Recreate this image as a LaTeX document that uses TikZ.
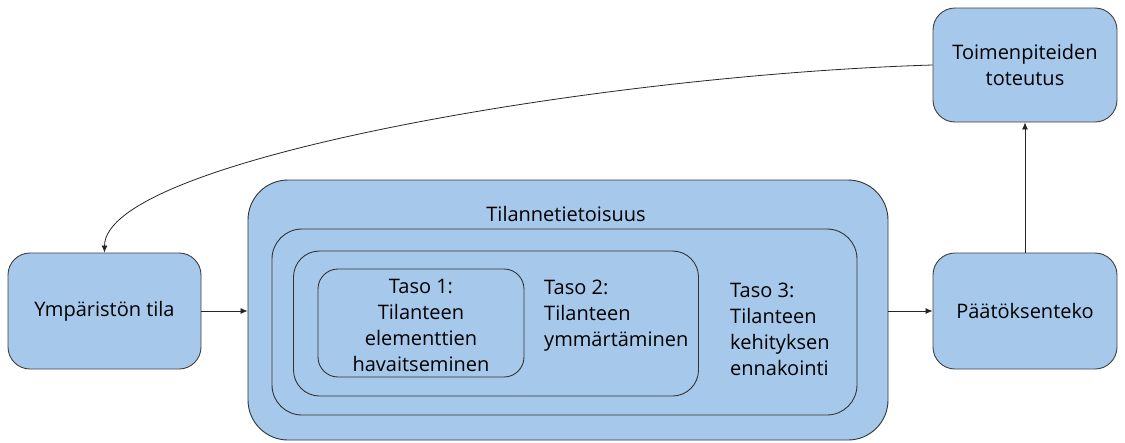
\documentclass[tikz,border=0pt]{standalone}
\usepackage{fontspec}
\setmainfont{Open Sans}
\usepackage{tikz}
\usetikzlibrary{arrows.meta}
\definecolor{sabox}{RGB}{166,201,235}

\begin{document}
\begin{tikzpicture}
[x=1pt,y=-1pt,
 every node/.style={font=\fontsize{20}{26}\selectfont},
 blok/.style={rectangle,draw=black!75,fill=sabox,line width=0.9pt,align=center,inner sep=0pt},
 taso/.style={rectangle,draw=black!80,fill=sabox,line width=0.9pt,inner sep=0pt},
 teks/.style={align=left,inner sep=0pt},
 nuol/.style={-{Latex[length=7pt,width=6pt]},line width=0.8pt,draw=black!85}]
\useasboundingbox (0,0) rectangle (1125,442);

% sivulaatikot
\node at (104.5,311) [blok,minimum width=193pt,minimum height=116pt,rounded corners=22pt] (ymp) {Ympäristön tila};
\node at (1025,311)  [blok,minimum width=184pt,minimum height=116pt,rounded corners=22pt] (paat) {Päätöksenteko};
\node at (1025,65)   [blok,minimum width=184pt,minimum height=114pt,rounded corners=22pt] (toim) {Toimenpiteiden\\toteutus};

% tilannetietoisuus ja sen tasot
\node at (568,310)   [taso,minimum width=640pt,minimum height=260pt,rounded corners=40pt] (sa) {};
\node at (566,214)   [teks] (satxt) {Tilannetietoisuus};
\node at (564.5,322) [taso,minimum width=585pt,minimum height=186pt,rounded corners=30pt] (t3) {};
\node at (496,323.5) [taso,minimum width=405pt,minimum height=145pt,rounded corners=26pt] (t2) {};
\node at (421,323)   [taso,minimum width=206pt,minimum height=108pt,rounded corners=20pt] (t1) {};
\node at (421,325)   [teks,align=center] (t1txt) {Taso 1:\\Tilanteen\\elementtien\\havaitseminen};
\node at (544,316)   [teks,anchor=west] (t2txt) {Taso 2:\\Tilanteen\\ymmärtäminen};
\node at (730,329)   [teks,anchor=west] (t3txt) {Taso 3:\\Tilanteen\\kehityksen\\ennakointi};

% nuolet
\draw [nuol] (ymp.east) to (sa.west |- ymp.east);
\draw [nuol] (sa.east |- paat.west) to (paat.west);
\draw [nuol] (paat.north) to (toim.south);
\draw [nuol] (toim.west) .. controls +(-333,10) and +(0,-93) .. (ymp.north);
\end{tikzpicture}
\end{document}
